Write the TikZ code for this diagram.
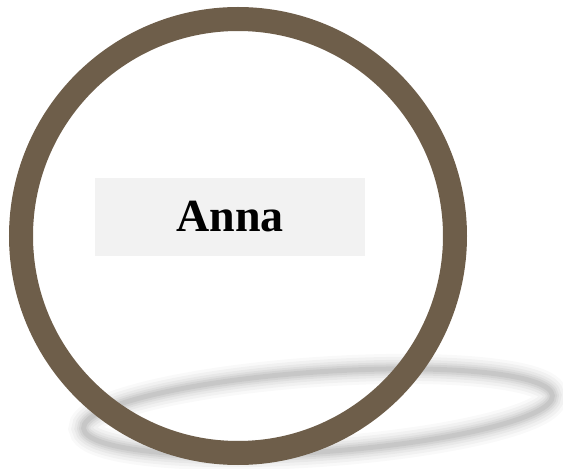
\documentclass[tikz,border=0pt]{standalone}
\usepackage{fontspec}
\setmainfont{Liberation Serif}
\usetikzlibrary{positioning}
\definecolor{ringbrown}{RGB}{110,94,74}
\definecolor{labelgray}{RGB}{242,242,242}

\begin{document}
\begin{tikzpicture}[x=1pt,y=1pt,
ring/.style={draw=ringbrown,line width=24pt,circle,minimum size=434pt},
namebox/.style={fill=labelgray,minimum width=270pt,minimum height=78pt,
font=\fontsize{46}{52}\selectfont\bfseries}]
\useasboundingbox (0,0) rectangle (563,469);

% soft shadow under the ring
\foreach \w/\o in {30/0.025,24/0.03,18/0.035,13/0.045,9/0.05,5/0.055}
  \draw[black,opacity=\o,line width=\w pt,rotate around={4:(318,57)}]
    (318,57) ellipse [x radius=235,y radius=40];

\node (circ) [ring] at (238,233) {};

\node (anna) [namebox] at (230,252) {Anna};

\end{tikzpicture}
\end{document}
